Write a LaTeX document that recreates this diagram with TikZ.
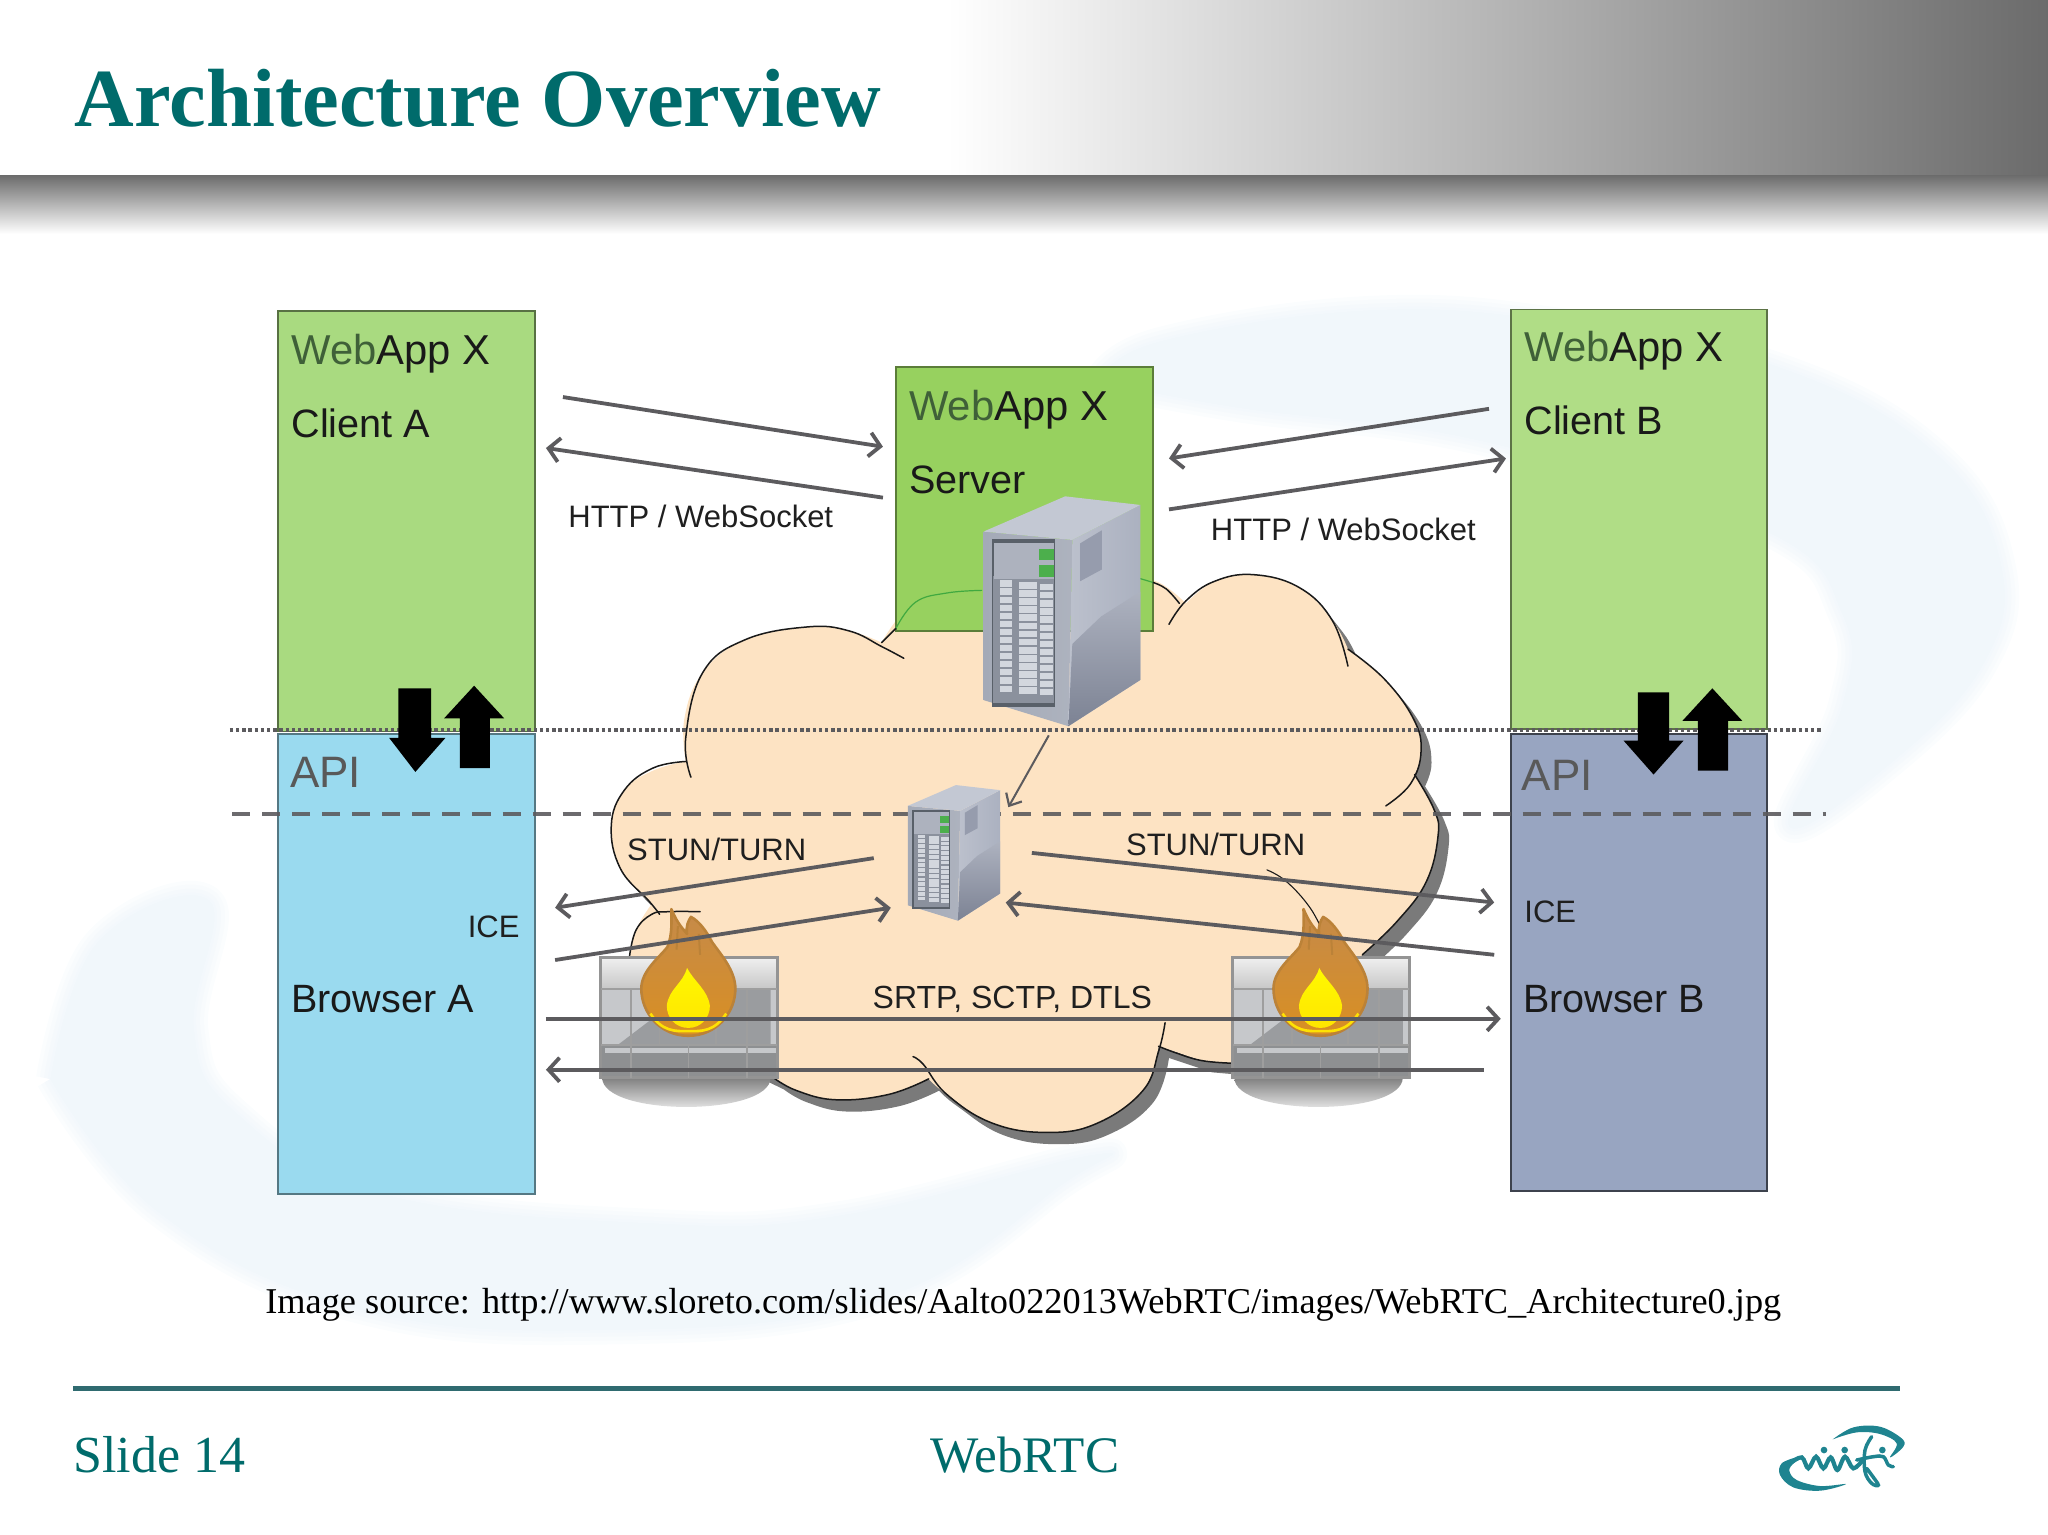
\documentclass[tikz,border=0pt]{standalone}
\usepackage{fontspec}
\setmainfont{Liberation Serif}
\newfontfamily\dsans{Liberation Sans}
\usetikzlibrary{arrows.meta}
\definecolor{teal1}{HTML}{006B6B}
\definecolor{rulec}{HTML}{2F6B70}
\definecolor{logoc}{HTML}{1F8490}
\definecolor{clientA}{HTML}{A9DA80}
\definecolor{clientB}{HTML}{B0DD86}
\definecolor{serverc}{HTML}{97D15F}
\definecolor{browA}{HTML}{9ADAEF}
\definecolor{browB}{HTML}{98A5C1}
\definecolor{cloudc}{HTML}{FDE3C3}
\definecolor{linec}{HTML}{5C5B5E}
\definecolor{webc}{HTML}{3F6038}
\definecolor{swirl}{HTML}{F1F7FB}
\definecolor{srvtop}{HTML}{C3C8D3}
\definecolor{srvside}{HTML}{ABB1C0}
\definecolor{srvlow}{HTML}{8A91A4}
\definecolor{srvfront}{HTML}{A4AAB7}
\definecolor{srvframe}{HTML}{596069}
\definecolor{srvpanel}{HTML}{8B919D}
\definecolor{srvcell}{HTML}{D3D7DE}
\definecolor{flametop}{HTML}{C58A4A}
\definecolor{flamelow}{HTML}{D98F22}
\definecolor{flameedge}{HTML}{BB8238}
\definecolor{brick}{HTML}{C6C8CB}
\definecolor{brickdark}{HTML}{9A9C9F}
\tikzset{
 panel/.style={draw=#1,line width=1.7pt},
 flow/.style={draw=linec,line width=3.8pt,-{Straight Barb[length=11pt,width=24pt,line width=3.8pt]}},
 lbl/.style={font=\dsans\fontsize{#1}{#1}\selectfont,anchor=base west,inner sep=0pt,text=black!88},
 head/.style={font=\dsans\fontsize{41.8}{41.8}\selectfont,anchor=base west,inner sep=0pt,text=black!90},
 cloudedge/.style={draw=black!90,line width=1.5pt,line cap=round},
 foot/.style={anchor=base west,inner sep=0pt},
 bigarrow/.style={fill=black,draw=none}
}
\newcommand\cloudpath[1]{%
 \fill[#1] plot[smooth,tension=.7] coordinates {(482,735)(487,712)(499,692)}
  -- plot[smooth,tension=.7] coordinates {(499,692)(475,665)(468,632)(478,605)(500,590)(525,583)}
  -- plot[smooth,tension=.7] coordinates {(525,583)(524,550)(538,515)(570,490)(618,480)(650,483)(675,492)}
  -- plot[smooth,tension=.7] coordinates {(675,492)(701,461)(745,452)(800,450)(860,445)(885,445)(908,462)}
  -- plot[smooth,tension=.7] coordinates {(908,462)(930,445)(960,440)(995,450)(1020,475)(1032,497)}
  -- plot[smooth,tension=.7] coordinates {(1032,497)(1060,520)(1082,550)(1088,575)(1083,593)}
  -- plot[smooth,tension=.7] coordinates {(1083,593)(1098,620)(1101,640)(1092,675)(1070,705)(1043,731)}
  -- (1000,790) -- (943,814) -- (920,812) -- (887,801)
  -- plot[smooth,tension=.7] coordinates {(887,801)(875,835)(840,860)(802,867)(760,860)(725,838)(711,826)}
  -- plot[smooth,tension=.7] coordinates {(711,826)(680,838)(640,842)(610,835)(592,825)}
  -- (540,800) -- cycle;}
\newcommand\serverbox[4]{% name, x, y, scale
 \begin{scope}[shift={(#2,#3)},x={(#4*1.3061pt,0pt)},y={(0pt,-#4*1.3061pt)}]
  \coordinate (#1) at (40,60);
  \shade[left color=srvfront,right color=srvfront!90!white] (0,0) -- (68,6.4) -- (65,149) -- (0,129) -- cycle;
  \shade[left color=srvside!80!white,right color=srvside] (68,6.4) -- (120,-20.4) -- (120,113.6) -- (65,149) -- cycle;
  \shade[top color=srvlow!70!white,bottom color=srvlow!90!black] (68,86) -- (90,65) -- (120,46) -- (120,113.6) -- (65,149) -- cycle;
  \fill[srvtop] (0,0) -- (62.5,-27) -- (120,-20.4) -- (68,6.4) -- cycle;
  \fill[srvlow!90!white] (74,9) -- (90.6,-1) -- (90.6,29) -- (74,38) -- cycle;
  \begin{scope}[x={(#4*68*1.3061pt,-#4*6.4*1.3061pt)},y={(0pt,-#4*129*1.3061pt)}]
   \fill[srvframe] (.09,.04) rectangle (.81,1.0);
   \fill[srvpanel] (.11,.26) rectangle (.79,.98);
   \fill[srvfront!90!white] (.12,.06) rectangle (.79,.14);
   \fill[srvfront!90!white] (.12,.16) rectangle (.79,.24);
   \fill[green!55!black!70!white] (.62,.07) rectangle (.79,.13);
   \fill[green!55!black!70!white] (.62,.17) rectangle (.79,.23);
   \foreach \ca/\cb in {.19/.32,.40/.60,.64/.78}{
    \foreach \r in {0,...,13}{
     \fill[srvcell] ({\ca},{.28+\r*.048}) rectangle ({\cb},{.28+\r*.048+.03});
    }
   }
  \end{scope}
 \end{scope}}
\newcommand\wall[3]{% name, x, y
 \begin{scope}[shift={(#2,#3)}]
  \coordinate (#1) at (67,46);
  \shade[top color=black!50,bottom color=white,draw=none] (1,92) .. controls (1,122) and (130,122) .. (130,92) -- cycle;
  \fill[brick] (0,24) rectangle (135,92);
  \fill[brickdark] (13,67) -- (38,48) -- (105,20) -- (130,16) -- (130,67) -- cycle;
  \shade[top color=black!6,bottom color=black!22] (0,0) rectangle (135,24);
  \fill[brickdark!92!black] (0,67) rectangle (135,92);
  \fill[brick] (3,69) rectangle (135,73);
  \draw[black!42,line width=3pt] (0,0) rectangle (135,92);
  \draw[black!38,line width=1.6pt] (0,24) -- (135,24) (0,67) -- (135,67);
  \foreach \q in {23,112}{\draw[black!38,line width=1.6pt] (\q,24) -- (\q,92);}
  \draw[black!38,line width=1.6pt] (67,67) -- (67,92) (45,24) -- (45,67) (88,24) -- (88,67);
 \end{scope}}
\newcommand\flame[3]{% name, x, y of bottom centre
 \begin{scope}[shift={(#2,#3)}]
  \coordinate (#1) at (0,-40);
  \shade[top color=flametop,bottom color=flamelow,draw=flameedge,line width=2.6pt,line join=round]
   (0,0) .. controls (-22,0) and (-36,-18) .. (-36,-36) .. controls (-36,-50) and (-22,-60) .. (-16,-68)
   .. controls (-12,-78) and (-13,-88) .. (-13,-97) .. controls (-8,-85) and (-4,-82) .. (-1,-78)
   .. controls (-2,-84) and (0,-88) .. (2,-91) .. controls (8,-88) and (14,-80) .. (18,-72)
   .. controls (25,-62) and (36,-50) .. (36,-36) .. controls (36,-18) and (22,0) .. (0,0) -- cycle;
  \draw[flameedge,line width=2pt] (-9,-66) -- (-8,-84) (9,-62) -- (8,-78);
  \draw[yellow!85!orange,line width=2.6pt] (-29,-17) .. controls (-20,-3) and (-10,-3.5) .. (0,-3.5) .. controls (10,-3.5) and (20,-3) .. (29,-17);
  \shade[top color=yellow!95!orange,bottom color=yellow!80!orange]
   (0,-6) .. controls (-10,-6) and (-16.5,-14) .. (-16.5,-23) .. controls (-15,-36) and (-4,-40) .. (-1,-52)
   .. controls (4,-42) and (15,-35) .. (16.5,-23) .. controls (16.5,-14) and (10,-6) .. (0,-6) -- cycle;
 \end{scope}}
\newcommand\swirlA[2]{\path[fill=#1,draw=#1,line width=#2,line join=round] plot[smooth,tension=.7] coordinates {(842,292)(888,262)(1050,238)(1200,248)(1360,281)(1480,346)(1531,430)(1517,510)(1440,590)(1370,632)(1411,540)(1411,470)(1350,405)(1138,338)(950,312)(842,292)};}
\newcommand\swirlB[2]{\path[fill=#1,draw=#1,line width=#2,line join=round] plot[smooth,tension=.7] coordinates {(39,826)(75,722)(160,690)(148,788)(180,852)(290,914)(498,937)(644,931)(835,885)(815,905)(674,994)(457,1018)(268,1000)(122,928)(39,826)};}
\begin{document}
\begin{tikzpicture}[x=1.3061pt,y=-1.3061pt]
\useasboundingbox (0,0) rectangle (1568,1175.2);
% swirl background
\foreach \w/\s in {30pt/30,22pt/50,14pt/70,6pt/85,0.5pt/100}{
 \swirlA{swirl!\s!white}{\w}
 \swirlB{swirl!\s!white}{\w}
}
% header
\shade[left color=white,right color=black!58,draw=none] (725,0) rectangle (1568,134);
\shade[top color=black!58,bottom color=white,draw=none] (0,134) rectangle (1568,179);
\node[foot,text=teal1,font=\bfseries\fontsize{82.6}{82.6}\selectfont] (title) at (57,97) {Architecture Overview};
% panels
\path[panel=black!48!clientA,fill=clientA] (213,238) rectangle (409.5,560);
\coordinate (clientAbox) at (311,400);
\path[panel=black!45!browA,fill=browA] (213,562) rectangle (409.5,914);
\coordinate (browserAbox) at (311,740);
\path[panel=black!48!clientB,fill=clientB] (1157,237) rectangle (1353,558);
\coordinate (clientBbox) at (1255,400);
\path[panel=black!60!browB,fill=browB] (1157,562) rectangle (1353,912);
\coordinate (browserBbox) at (1255,740);
% cloud
\cloudpath{black!52,shift={(8,9)}}
\cloudpath{cloudc}
\path[panel=black!40!serverc,fill=serverc] (686,281) rectangle (883,483);
\coordinate (serverboxc) at (784,380);
\draw[cloudedge] plot[smooth,tension=.7] coordinates {(482,732)(487,712)(499,700)(512,698)(536,698)};
\draw[cloudedge] plot[smooth,tension=.7] coordinates {(525,583)(500,588)(478,605)(468,632)(475,665)(497,690)(505,700)};
\draw[cloudedge] plot[smooth,tension=.7] coordinates {(529,595)(525,565)(538,515)(570,490)(618,480)(650,483)(675,495)(692,504)};
\draw[cloudedge] (675,492) -- (686,481);
\draw[green!55!black!75,line width=1.2pt] plot[smooth,tension=.7] coordinates {(686,481)(701,461)(725,454)(752,452)};
\draw[green!55!black!75,line width=1.2pt] (873,443) -- (883,446);
\draw[cloudedge] plot[smooth,tension=.7] coordinates {(883,446)(893,451)(903,462)};
\draw[cloudedge] plot[smooth,tension=.7] coordinates {(895,478)(908,460)(930,445)(960,440)(995,450)(1020,475)(1032,510)};
\draw[cloudedge] plot[smooth,tension=.7] coordinates {(1032,497)(1060,520)(1082,550)(1088,575)(1080,600)(1061,617)};
\draw[cloudedge] plot[smooth,tension=.7] coordinates {(1083,593)(1098,620)(1101,640)(1092,675)(1070,705)(1043,731)};
\draw[cloudedge] plot[smooth,tension=.7] coordinates {(887,801)(900,806)(920,812)(943,814)};
\draw[cloudedge] plot[smooth,tension=.7] coordinates {(892,783)(887,805)(875,835)(840,860)(802,867)(760,860)(725,838)(707,815)(699,809)};
\draw[cloudedge] plot[smooth,tension=.7] coordinates {(592,825)(610,835)(640,842)(680,838)(711,826)};
\draw[cloudedge,line width=1.1pt] plot[smooth,tension=.7] coordinates {(970,666)(985,675)(1003,695)(1014,716)};
% levels
\coordinate (dotL) at (176,559); \coordinate (dotR) at (1395,559);
\coordinate (dashL) at (178,623); \coordinate (dashR) at (1398,623);
\draw[linec,line width=3.8pt,dash pattern=on 3.4pt off 2.8pt] (dotL) -- (dotR);
\draw[linec,opacity=.9,line width=4.4pt,dash pattern=on 18pt off 12pt] (dashL) -- (dashR);
% servers
\serverbox{srvbig}{753}{407}{1}
\serverbox{srvsmall}{695}{617}{.59}
% firewalls
\wall{fwA}{460}{733}
\wall{fwB}{944}{733}
\flame{flA}{527}{793}
\flame{flB}{1011}{793}
% flows
\coordinate (a1) at (431,304); \coordinate (a2) at (676,342);
\coordinate (a3) at (676,381); \coordinate (a4) at (418,343);
\coordinate (b1) at (1140,313); \coordinate (b2) at (895,351);
\coordinate (b3) at (895,390); \coordinate (b4) at (1153,351);
\coordinate (c1) at (803,563); \coordinate (c2) at (772,618);
\coordinate (d1) at (669,657); \coordinate (d2) at (425,695);
\coordinate (d3) at (425,735); \coordinate (d4) at (682,695);
\coordinate (e1) at (790,653); \coordinate (e2) at (1144,691);
\coordinate (e3) at (1144,731); \coordinate (e4) at (770,691);
\coordinate (f1) at (418,780); \coordinate (f2) at (1149,780);
\coordinate (f3) at (1136,819); \coordinate (f4) at (418,819);
\draw[flow] (a1) -- (a2); \draw[flow] (a3) -- (a4);
\draw[flow] (b1) -- (b2); \draw[flow] (b3) -- (b4);
\draw[draw=linec,line width=2pt,-{Straight Barb[length=10pt,width=18pt,line width=2.2pt]}] (c1) -- (c2);
\draw[flow] (d1) -- (d2); \draw[flow] (d3) -- (d4);
\draw[flow] (e1) -- (e2); \draw[flow] (e3) -- (e4);
\draw[flow] (f1) -- (f2); \draw[flow] (f3) -- (f4);
% API arrows
\fill[bigarrow] (305,527) -- (330,527) -- (330,565) -- (341,565) -- (318,591) -- (298,565) -- (305,565) -- cycle;
\fill[bigarrow] (363,525) -- (386,550) -- (375,550) -- (375,588) -- (352,588) -- (352,550) -- (340,550) -- cycle;
\fill[bigarrow] (1254,530) -- (1278,530) -- (1278,567) -- (1289,567) -- (1266,593) -- (1243,567) -- (1254,567) -- cycle;
\fill[bigarrow] (1311,527) -- (1334,552) -- (1323,552) -- (1323,590) -- (1300,590) -- (1300,552) -- (1288,552) -- cycle;
% labels
\node[head] (wa) at (223,279) {\textcolor{webc}{Web}App X};
\node[head,font=\dsans\fontsize{39.6}{39.6}\selectfont] (ca) at (223,335) {Client A};
\node[head] (wb) at (1167,277) {\textcolor{webc}{Web}App X};
\node[head,font=\dsans\fontsize{39.6}{39.6}\selectfont] (cb) at (1167,333) {Client B};
\node[head] (ws) at (696,322) {\textcolor{webc}{Web}App X};
\node[head,font=\dsans\fontsize{39.6}{39.6}\selectfont] (sv) at (696,378) {Server};
\node[head,text=black!65,font=\dsans\fontsize{44}{44}\selectfont] (apiA) at (222,603) {API};
\node[head,text=black!65,font=\dsans\fontsize{44}{44}\selectfont] (apiB) at (1165,605) {API};
\node[head,font=\dsans\fontsize{39.5}{39.5}\selectfont] (ba) at (223,775) {Browser A};
\node[head,font=\dsans\fontsize{39.5}{39.5}\selectfont] (bb) at (1166,775) {Browser B};
\node[lbl=31] (h1) at (435,404) {HTTP / WebSocket};
\node[lbl=31] (h2) at (927,414) {HTTP / WebSocket};
\node[lbl=31] (s1) at (480,659) {STUN/TURN};
\node[lbl=31] (s2) at (862,655) {STUN/TURN};
\node[lbl=31] (ice1) at (358,718) {ICE};
\node[lbl=31] (ice2) at (1167,706) {ICE};
\node[lbl=32] (sr) at (668,772) {SRTP, SCTP, DTLS};
% footer
\node[foot,font=\fontsize{36.3}{36.3}\selectfont] (src) at (203,1006) {Image source: http://www.sloreto.com/slides/Aalto022013WebRTC/images/WebRTC\_Architecture0.jpg};
\draw[rulec,line width=5pt] (56,1063) -- (1455,1063);
\node[foot,text=teal1,font=\fontsize{52}{52}\selectfont] (sl) at (56,1127) {Slide 14};
\node[foot,text=teal1,font=\fontsize{51.2}{51.2}\selectfont] (wr) at (712,1127) {WebRTC};
% logo
\begin{scope}[shift={(1332.2,1071.9)},x=.3333pt,y=-.3333pt]
 \coordinate (logo) at (300,170);
 \fill[logoc] plot[smooth,tension=.6] coordinates {(278,118)(340,82)(420,80)(485,115)(490,140)(450,172)(470,130)(420,102)(350,97)(278,118)};
 \fill[logoc] plot[smooth,tension=.6] coordinates {(168,172)(125,190)(120,225)(160,262)(240,272)(318,252)(240,258)(170,240)(148,212)(160,190)(178,178)};
 \draw[logoc,line width=4.2pt,line cap=round] plot[smooth,tension=.6] coordinates {(150,190)(185,172)(205,205)(228,170)(250,205)(272,172)(292,210)(315,170)(340,205)(370,178)};
 \draw[logoc,line width=3.5pt,line cap=round] plot[smooth,tension=.6] coordinates {(395,110)(375,150)(375,215)(395,250)(415,255)(395,225)(380,205)};
 \draw[logoc,line width=3.5pt,line cap=round] plot[smooth,tension=.6] coordinates {(350,180)(400,170)(430,170)(445,195)(460,200)};
 \fill[logoc] (252,150) circle[radius=10];
 \fill[logoc] (314,150) circle[radius=10];
 \fill[logoc] (427,150) circle[radius=10];
\end{scope}
\end{tikzpicture}
\end{document}
